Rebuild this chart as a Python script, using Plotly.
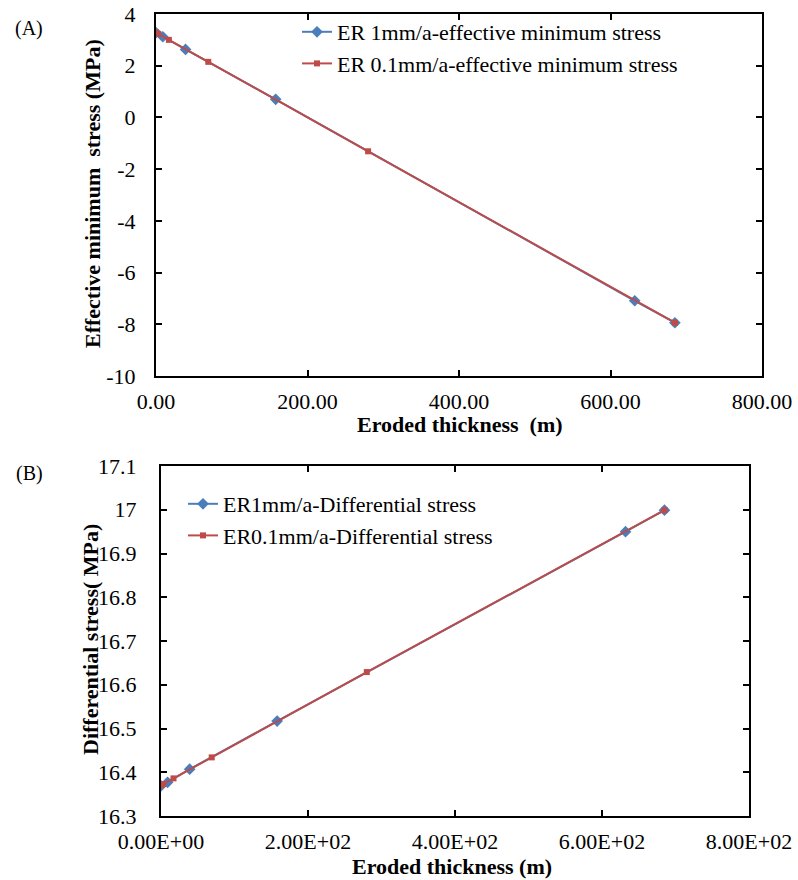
import plotly.graph_objects as go

# ---- data ----
thick_1mm = [0, 9, 39, 158, 632, 685]
thick_01mm = [0, 3, 17, 69, 280, 685]
eff_min_1mm = [3.28, 3.12, 2.63, 0.70, -7.09, -7.94]
eff_min_01mm = [3.28, 3.23, 3.00, 2.15, -1.31, -7.94]
diff_1mm = [16.369, 16.377, 16.407, 16.517, 16.950, 16.999]
diff_01mm = [16.370, 16.373, 16.386, 16.434, 16.629, 16.999]

xA_ticks = [0, 200, 400, 600, 800]
yA_ticks = [-10, -8, -6, -4, -2, 0, 2, 4]
xB_ticks = [0, 200, 400, 600, 800]
yB_ticks = [16.3, 16.4, 16.5, 16.6, 16.7, 16.8, 16.9, 17.0, 17.1]

BLUE = "#4A7EBB"
RED = "#BE4B48"
FONT = "Liberation Serif"
W, H = 798, 880

fig = go.Figure()
fig.add_trace(go.Scatter(x=thick_1mm, y=eff_min_1mm, mode="lines+markers",
                         name="ER 1mm/a-effective minimum stress",
                         line=dict(color=BLUE, width=2),
                         marker=dict(symbol="diamond", size=9, color=BLUE),
                         xaxis="x", yaxis="y", legend="legend"))
fig.add_trace(go.Scatter(x=thick_01mm, y=eff_min_01mm, mode="lines+markers",
                         name="ER 0.1mm/a-effective minimum stress",
                         line=dict(color=RED, width=2),
                         marker=dict(symbol="square", size=6, color=RED),
                         xaxis="x", yaxis="y", legend="legend"))
fig.add_trace(go.Scatter(x=thick_1mm, y=diff_1mm, mode="lines+markers",
                         name="ER1mm/a-Differential stress",
                         line=dict(color=BLUE, width=2),
                         marker=dict(symbol="diamond", size=9, color=BLUE),
                         xaxis="x2", yaxis="y2", legend="legend2"))
fig.add_trace(go.Scatter(x=thick_01mm, y=diff_01mm, mode="lines+markers",
                         name="ER0.1mm/a-Differential stress",
                         line=dict(color=RED, width=2),
                         marker=dict(symbol="square", size=6, color=RED),
                         xaxis="x2", yaxis="y2", legend="legend2"))


def px_x(v):
    return v / W


def px_y(v):
    return 1 - v / H


axis_common = dict(showline=True, linecolor="black", linewidth=2, mirror="ticks",
                   ticks="inside", ticklen=6, tickwidth=1.5, tickcolor="black",
                   showgrid=False, zeroline=False, automargin=False,
                   tickfont=dict(family=FONT, size=22, color="black"))

fig.update_layout(
    width=W, height=H,
    margin=dict(l=0, r=0, t=0, b=0, autoexpand=False),
    paper_bgcolor="white", plot_bgcolor="white",
    font=dict(family=FONT, size=22, color="black"),
    xaxis=dict(domain=[px_x(156), px_x(762)], range=[0, 800], anchor="y",
               tickvals=xA_ticks, ticktext=[f"{v:.2f}" for v in xA_ticks],
               ticklabelstandoff=5, **axis_common),
    yaxis=dict(domain=[px_y(376), px_y(14)], range=[-10, 4], anchor="x",
               tickvals=yA_ticks, ticktext=[str(v) for v in yA_ticks],
               ticklabelstandoff=14, **axis_common),
    xaxis2=dict(domain=[px_x(161), px_x(749)], range=[0, 800], anchor="y2",
                tickvals=xB_ticks, ticktext=[f"{v:.2E}" for v in xB_ticks],
                ticklabelstandoff=5, **axis_common),
    yaxis2=dict(domain=[px_y(816), px_y(466)], range=[16.3, 17.1], anchor="x2",
                tickvals=yB_ticks, ticktext=[f"{v:g}" for v in yB_ticks],
                ticklabelstandoff=18, **axis_common),
    legend=dict(x=px_x(297), y=px_y(11), xanchor="left", yanchor="top",
                bgcolor="rgba(0,0,0,0)", font=dict(family=FONT, size=22),
                itemwidth=30, tracegroupgap=0),
    legend2=dict(x=px_x(183), y=px_y(483), xanchor="left", yanchor="top",
                 bgcolor="rgba(0,0,0,0)", font=dict(family=FONT, size=22),
                 itemwidth=30, tracegroupgap=0),
    showlegend=True,
)

ann = [
    dict(text="(A)", x=px_x(29), y=px_y(28), font=dict(size=20)),
    dict(text="(B)", x=px_x(29), y=px_y(473), font=dict(size=20)),
    dict(text="<b>Eroded thickness  (m)</b>", x=px_x(460), y=px_y(425), font=dict(size=22)),
    dict(text="<b>Eroded thickness (m)</b>", x=px_x(452), y=px_y(866), font=dict(size=22)),
    dict(text="<b>Effective minimum  stress (MPa)</b>", x=px_x(92), y=px_y(194),
         textangle=-90, font=dict(size=22)),
    dict(text="<b>Differential stress( MPa)</b>", x=px_x(90), y=px_y(640),
         textangle=-90, font=dict(size=22)),
]
for a in ann:
    fig.add_annotation(xref="paper", yref="paper", showarrow=False,
                       xanchor="center", yanchor="middle",
                       font=dict(family=FONT, color="black", size=a["font"]["size"]),
                       text=a["text"], x=a["x"], y=a["y"],
                       textangle=a.get("textangle", 0))

fig.write_html("out.html")
